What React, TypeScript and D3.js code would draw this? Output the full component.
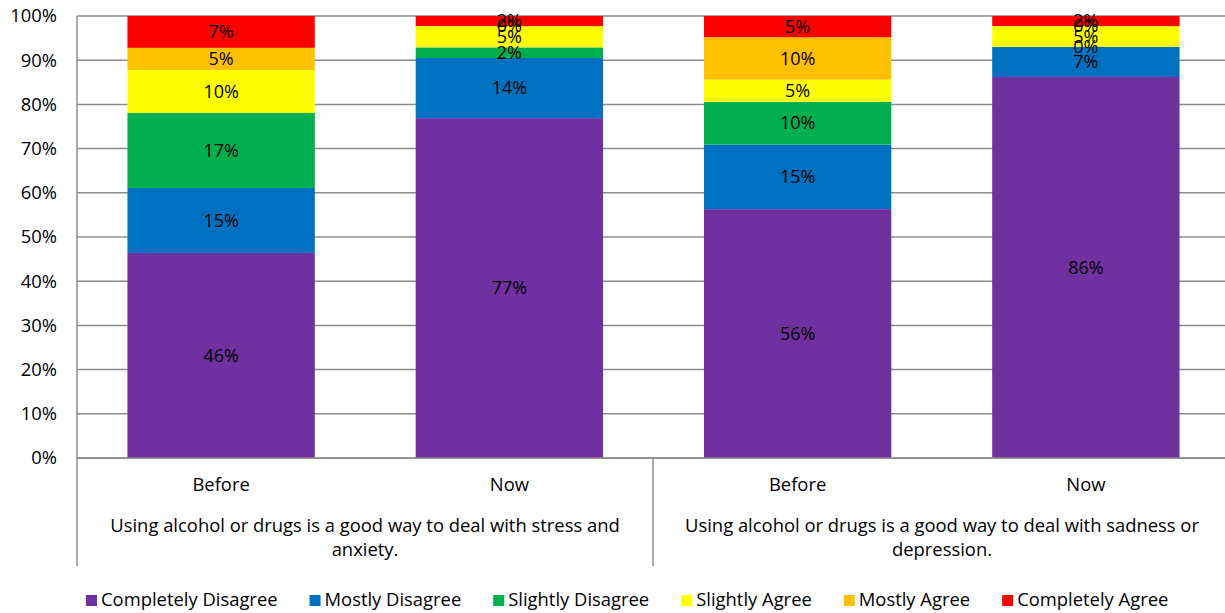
import React, { useEffect, useRef } from "react";
import * as d3 from "d3";

// Response categories (stack order, bottom to top) and their fills
const seriesNames = [
  "Completely Disagree",
  "Mostly Disagree",
  "Slightly Disagree",
  "Slightly Agree",
  "Mostly Agree",
  "Completely Agree",
];
const seriesColors = ["#7030A0", "#0070C0", "#00B050", "#FFFF00", "#FFC000", "#FF0000"];

// Bars: period within each statement
const periods = ["Before", "Now", "Before", "Now"];
const statementLines = [
  ["Using alcohol or drugs is a good way to deal with stress and", "anxiety."],
  ["Using alcohol or drugs is a good way to deal with sadness or", "depression."],
];

// Percent of respondents per bar, one array per response category
const completelyDisagree = [46.4, 76.9, 56.3, 86.2];
const mostlyDisagree = [14.7, 13.6, 14.6, 6.8];
const slightlyDisagree = [17.0, 2.4, 9.7, 0];
const slightlyAgree = [9.7, 4.8, 5.0, 4.7];
const mostlyAgree = [5.0, 0, 9.6, 0];
const completelyAgree = [7.2, 2.3, 4.8, 2.3];

const yTicks = [0, 10, 20, 30, 40, 50, 60, 70, 80, 90, 100];

const FONT = "'Open Sans', 'Noto Sans', sans-serif";
const FS = 18.4;

export default function App() {
  const ref = useRef<SVGSVGElement>(null);

  useEffect(() => {
    const svg = d3.select(ref.current);
    svg.selectAll("*").remove();

    const left = 77;
    const right = 1230;
    const top = 16;
    const bottom = 458;

    const seriesValues = [
      completelyDisagree,
      mostlyDisagree,
      slightlyDisagree,
      slightlyAgree,
      mostlyAgree,
      completelyAgree,
    ];
    const rows = periods.map((p, i) => {
      const r: any = { idx: i };
      seriesNames.forEach((s, k) => (r[s] = seriesValues[k][i]));
      return r;
    });

    const x = d3
      .scaleBand<number>()
      .domain(periods.map((_, i) => i))
      .range([left, right])
      .paddingInner(0.35)
      .paddingOuter(0.175);
    const y = d3.scaleLinear().domain([0, 100]).range([bottom, top]);

    const grid = "#8C8C8C";

    // horizontal gridlines
    svg
      .append("g")
      .selectAll("line")
      .data(yTicks)
      .join("line")
      .attr("x1", left)
      .attr("x2", right)
      .attr("y1", (d) => y(d))
      .attr("y2", (d) => y(d))
      .attr("stroke", grid)
      .attr("stroke-width", 1.5);

    // y tick labels
    svg
      .append("g")
      .selectAll("text")
      .data(yTicks)
      .join("text")
      .attr("x", 57)
      .attr("y", (d) => y(d))
      .attr("dy", "0.35em")
      .attr("text-anchor", "end")
      .attr("font-family", FONT)
      .attr("font-size", FS)
      .attr("fill", "#000")
      .text((d) => `${d}%`);

    const stack = d3.stack<any>().keys(seriesNames);
    const layers = stack(rows);

    const layerG = svg
      .append("g")
      .selectAll("g")
      .data(layers)
      .join("g")
      .attr("fill", (_, i) => seriesColors[i]);

    layerG
      .selectAll("rect")
      .data((l) => l)
      .join("rect")
      .attr("x", (d: any) => x(d.data.idx)!)
      .attr("width", x.bandwidth())
      .attr("y", (d) => y(d[1]))
      .attr("height", (d) => y(d[0]) - y(d[1]));

    // value labels at the middle of each segment
    const labelG = svg.append("g");
    layers.forEach((l) => {
      labelG
        .append("g")
        .selectAll("text")
        .data(l)
        .join("text")
        .attr("x", (d: any) => x(d.data.idx)! + x.bandwidth() / 2)
        .attr("y", (d) => (y(d[0]) + y(d[1])) / 2)
        .attr("dy", "0.35em")
        .attr("text-anchor", "middle")
        .attr("font-family", FONT)
        .attr("font-size", 18)
        .attr("fill", "#000")
        .text((d) => `${Math.round(d[1] - d[0])}%`);
    });

    // axes lines
    const axisEnd = 566;
    svg
      .append("line")
      .attr("x1", left)
      .attr("x2", right)
      .attr("y1", bottom)
      .attr("y2", bottom)
      .attr("stroke", grid)
      .attr("stroke-width", 1.5);
    svg
      .append("line")
      .attr("x1", left)
      .attr("x2", left)
      .attr("y1", top)
      .attr("y2", axisEnd)
      .attr("stroke", grid)
      .attr("stroke-width", 1.5);
    const mid = (left + right) / 2 - 0.5;
    svg
      .append("line")
      .attr("x1", mid)
      .attr("x2", mid)
      .attr("y1", bottom)
      .attr("y2", axisEnd)
      .attr("stroke", grid)
      .attr("stroke-width", 1.5);

    // period labels
    svg
      .append("g")
      .selectAll("text")
      .data(periods)
      .join("text")
      .attr("x", (_, i) => x(i)! + x.bandwidth() / 2)
      .attr("y", 485)
      .attr("dy", "0.35em")
      .attr("text-anchor", "middle")
      .attr("font-family", FONT)
      .attr("font-size", FS)
      .attr("fill", "#000")
      .text((d) => d);

    // statement labels, wrapped over two lines
    const statementCenters = [365, 942];
    statementLines.forEach((lines, g) => {
      lines.forEach((line, li) => {
        svg
          .append("text")
          .attr("x", statementCenters[g])
          .attr("y", 526 + li * 24)
          .attr("dy", "0.35em")
          .attr("text-anchor", "middle")
          .attr("font-family", FONT)
          .attr("font-size", FS)
          .attr("fill", "#000")
          .text(line);
      });
    });

    // legend
    const legend = svg.append("g");
    let cursor = 86;
    seriesNames.forEach((name, i) => {
      const item = legend.append("g").attr("transform", `translate(${cursor},0)`);
      item
        .append("rect")
        .attr("x", 0)
        .attr("y", 595)
        .attr("width", 11)
        .attr("height", 11)
        .attr("fill", seriesColors[i]);
      const t = item
        .append("text")
        .attr("x", 15)
        .attr("y", 600)
        .attr("dy", "0.35em")
        .attr("font-family", FONT)
        .attr("font-size", FS)
        .attr("fill", "#000")
        .text(name);
      const w = (t.node() as SVGTextElement).getComputedTextLength();
      cursor += 15 + w + 32;
    });
  }, []);

  return (
    <svg
      ref={ref}
      width={1225}
      height={613}
      style={{ position: "absolute", left: 0, top: 0, background: "#fff" }}
    />
  );
}
